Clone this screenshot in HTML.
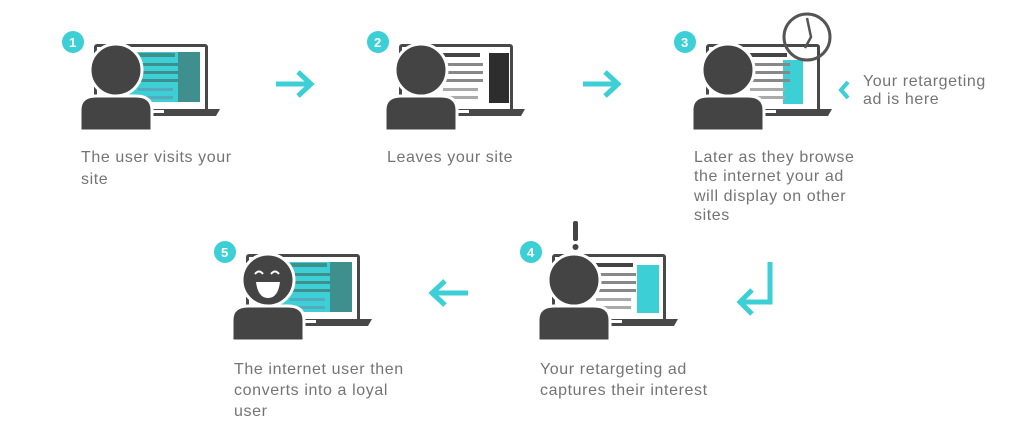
<!DOCTYPE html>
<html><head><style>
html,body{margin:0;padding:0;background:#fff;width:1024px;height:429px;overflow:hidden}
svg{display:block}
text{font-family:"Liberation Sans",sans-serif;font-size:16px;letter-spacing:0.6px;fill:#747474}
.b{font-size:13px;font-weight:bold;fill:#fff;letter-spacing:0}
</style></head><body>
<svg width="1024" height="429" viewBox="0 0 1024 429" xmlns="http://www.w3.org/2000/svg">
<defs>
<g id="lap">
<rect x="94" y="44" width="114" height="68" rx="3" fill="#484848"/>
<rect x="97" y="47" width="108" height="62" fill="#fff"/>
<path d="M140 109 H220 L216 116 H140 Z" fill="#484848"/>
<rect x="150" y="110" width="14" height="3" fill="#fff"/>
</g>
<g id="person">
<path d="M80 131 V110 Q80 96 96 96 H136 Q152 96 152 110 V131 Z" fill="#444" stroke="#fff" stroke-width="3"/>
<circle cx="116" cy="70" r="26" fill="#444" stroke="#fff" stroke-width="3"/>
</g>
<g id="glines">
<rect x="130" y="53" width="45" height="4" fill="#444"/>
<rect x="138" y="63" width="40" height="3" fill="#888"/>
<rect x="138" y="71" width="40" height="3" fill="#888"/>
<rect x="138" y="79" width="40" height="3" fill="#888"/>
<rect x="138" y="88" width="35" height="3" fill="#aaa"/>
<rect x="138" y="96" width="35" height="3" fill="#aaa"/>
</g>
<g id="clines">
<rect x="130" y="53" width="45" height="4" fill="#3f8f8f"/>
<rect x="138" y="63" width="40" height="3" fill="#3f8f8f"/>
<rect x="138" y="71" width="40" height="3" fill="#3f8f8f"/>
<rect x="138" y="79" width="40" height="3" fill="#3f8f8f"/>
<rect x="138" y="88" width="35" height="3" fill="#5ab"/>
<rect x="138" y="96" width="35" height="3" fill="#5ab"/>
</g>
</defs>

<circle cx="73" cy="42" r="11" fill="#3ccfd6"/><text class="b" x="69" y="47">1</text>
<use href="#lap"/>
<rect x="103" y="52" width="97" height="50" fill="#3ccfd6"/>
<rect x="178" y="52" width="22" height="50" fill="#3f8f8f"/>
<use href="#clines"/>
<use href="#person"/>
<text x="81" y="162">The user visits your</text><text x="81" y="184">site</text>

<path d="M276 84 H310 M298 72 L311 84 L298 96" stroke="#3ccfd6" stroke-width="5" fill="none"/>

<g transform="translate(305,0)">
<circle cx="73" cy="42" r="11" fill="#3ccfd6"/><text class="b" x="69" y="47">2</text>
<use href="#lap"/>
<rect x="184" y="53" width="20" height="50" fill="#2d2d2d"/>
<use href="#glines"/>
<use href="#person"/>
</g>
<text x="387" y="162">Leaves your site</text>
<path d="M583 84 H617 M605 72 L618 84 L605 96" stroke="#3ccfd6" stroke-width="5" fill="none"/>

<g transform="translate(612,0)">
<circle cx="73" cy="42" r="11" fill="#3ccfd6"/><text class="b" x="69" y="47">3</text>
<use href="#lap"/>
<rect x="171" y="60" width="20" height="44" fill="#3ccfd6"/>
<use href="#glines"/>
<use href="#person"/>
<circle cx="195" cy="37" r="23" fill="none" stroke="#555" stroke-width="3"/>
<path d="M195 18 L199 37 L193 48" stroke="#555" stroke-width="2.5" fill="none"/>
</g>
<text x="694" y="162">Later as they browse</text>
<text x="694" y="181">the internet your ad</text>
<text x="694" y="201">will display on other</text>
<text x="694" y="220">sites</text>
<path d="M848 82 L841 90 L848 98" stroke="#3ccfd6" stroke-width="4" fill="none"/>
<text x="863" y="86">Your retargeting</text>
<text x="863" y="104">ad is here</text>

<path d="M770 262 V302 H741 M752 290 L740 302 L752 314" stroke="#3ccfd6" stroke-width="5" fill="none"/>

<g transform="translate(458,210)">
<circle cx="73" cy="42" r="11" fill="#3ccfd6"/><text class="b" x="69" y="47">4</text>
<use href="#lap"/>
<rect x="179" y="55" width="22" height="48" fill="#3ccfd6"/>
<use href="#glines"/>
<use href="#person"/>
<rect x="115" y="11" width="5" height="20" rx="2" fill="#444"/>
<circle cx="117.5" cy="37" r="3" fill="#444"/>
</g>
<text x="540" y="374">Your retargeting ad</text>
<text x="540" y="395">captures their interest</text>

<path d="M468 293 H433 M445 281 L432 293 L445 305" stroke="#3ccfd6" stroke-width="5" fill="none"/>

<g transform="translate(152,210)">
<circle cx="73" cy="42" r="11" fill="#3ccfd6"/><text class="b" x="69" y="47">5</text>
<use href="#lap"/>
<rect x="103" y="52" width="97" height="50" fill="#3ccfd6"/>
<rect x="178" y="52" width="22" height="50" fill="#3f8f8f"/>
<use href="#clines"/>
<use href="#person"/>
<path d="M103 64 q4 -5 8 0 M119 64 q4 -5 8 0" stroke="#fff" stroke-width="2" fill="none"/>
<path d="M104 72 H128 Q126 88 116 88 Q106 88 104 72 Z" fill="#fff"/>
</g>
<text x="234" y="374">The internet user then</text>
<text x="234" y="395">converts into a loyal</text>
<text x="234" y="416">user</text>
</svg>
</body></html>
